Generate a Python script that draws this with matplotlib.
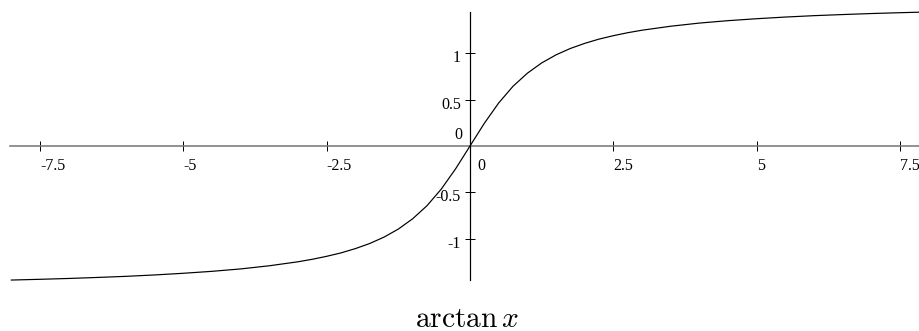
import matplotlib
matplotlib.use("Agg")
import matplotlib.pyplot as plt
import matplotlib.transforms as mtransforms

# points
xs = [-8.0, -7.5, -7.0, -6.5, -6.0, -5.5, -5.0, -4.5, -4.0, -3.5, -3.0,
      -2.75, -2.5, -2.25, -2.0, -1.75, -1.5, -1.25, -1.0, -0.75, -0.5, -0.25,
      0.0, 0.25, 0.5, 0.75, 1.0, 1.25, 1.5, 1.75, 2.0, 2.25, 2.5, 2.75,
      3.0, 3.5, 4.0, 4.5, 5.0, 5.5, 6.0, 6.5, 7.0, 7.5, 8.0]
ys = [-1.446, -1.438, -1.429, -1.418, -1.406, -1.391, -1.373, -1.352, -1.326, -1.292, -1.249,
      -1.222, -1.190, -1.153, -1.107, -1.052, -0.983, -0.896, -0.785, -0.644, -0.464, -0.245,
      0.0, 0.245, 0.464, 0.644, 0.785, 0.896, 0.983, 1.052, 1.107, 1.153, 1.190, 1.222,
      1.249, 1.292, 1.326, 1.352, 1.373, 1.391, 1.406, 1.418, 1.429, 1.438, 1.446]

xticks = [-7.5, -5, -2.5, 2.5, 5, 7.5]
xticklabels = ["-7.5", "-5", "-2.5", "2.5", "5", "7.5"]
yticks = [-1, -0.5, 0.5, 1]
yticklabels = ["-1", "-0.5", "0.5", "1"]
title = r"$\arctan x$"

plt.rcParams["font.family"] = ["Liberation Serif", "DejaVu Serif"]
plt.rcParams["mathtext.fontset"] = "cm"

W, H = 919, 331
fig = plt.figure(figsize=(W / 72, H / 72), dpi=72)
ax = fig.add_axes([0, 0, 1, 1])

# pixel scale
ox, oy = 470, 146
sx, sy = 57.33, 92.7
ax.set_xlim(-ox / sx, (W - ox) / sx)
ax.set_ylim(-(H - oy) / sy, oy / sy)

ax.plot(xs, ys, color="black", lw=1.2, zorder=3)

for s in ["top", "right"]:
    ax.spines[s].set_visible(False)
ax.spines["bottom"].set_position(("data", 0))
ax.spines["left"].set_position(("data", 0))
ax.spines["bottom"].set_bounds(-(ox - 10) / sx, (W - ox) / sx)
ax.spines["left"].set_bounds(-(280 - oy) / sy, (oy - 12) / sy)
ax.spines["bottom"].set_color("#7a7a7a")
ax.spines["bottom"].set_linewidth(1.6)
ax.spines["left"].set_color("black")
ax.spines["left"].set_linewidth(1.2)
ax.spines["left"].set_zorder(4)

fs = 16
ax.set_xticks(xticks)
ax.set_xticklabels(xticklabels)
ax.set_yticks(yticks)
ax.set_yticklabels(yticklabels)
ax.tick_params(axis="x", direction="inout", length=10, width=1, color="black",
               labelsize=fs, pad=7)
ax.tick_params(axis="y", direction="inout", length=10, width=1, color="black",
               labelsize=fs, pad=4)
for lab in ax.get_xticklabels():
    lab.set_horizontalalignment("left")
off = mtransforms.ScaledTranslation(0, -3 / 72, fig.dpi_scale_trans)
for lab in ax.get_yticklabels():
    lab.set_transform(lab.get_transform() + off)

# the two zero labels near the origin
ax.text(0, 0, "0", fontsize=fs, ha="left", va="top",
        transform=ax.transData + mtransforms.ScaledTranslation(7 / 72, -12 / 72, fig.dpi_scale_trans))
ax.text(0, 0, "0", fontsize=fs, ha="right", va="bottom",
        transform=ax.transData + mtransforms.ScaledTranslation(-8 / 72, 3 / 72, fig.dpi_scale_trans))

fig.text(466.5 / W, 4 / H, title, fontsize=29.5, ha="center", va="baseline")

fig.savefig("out.png", dpi=72)
